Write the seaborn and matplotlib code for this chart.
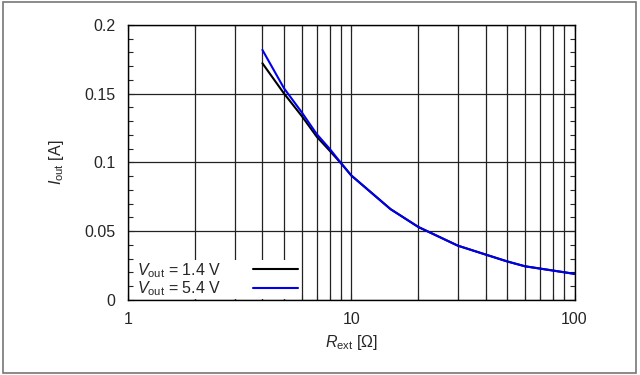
import numpy as np
import pandas as pd
import matplotlib
matplotlib.use("Agg")
import matplotlib.pyplot as plt
import matplotlib.ticker as mticker
from matplotlib.patches import Rectangle
import seaborn as sns

# ── Data ───────────────────────────────────────────────────────────────────────
r_ext = [4, 5, 6, 7, 8, 9, 10, 15, 20, 30, 40, 50, 60, 100]
i_out_1v4 = [0.172, 0.150, 0.1337, 0.1187, 0.1085, 0.0993, 0.0905,
             0.066, 0.053, 0.0395, 0.033, 0.028, 0.0245, 0.019]
i_out_5v4 = [0.1817, 0.1538, 0.1364, 0.1206, 0.1099, 0.0995, 0.0905,
             0.066, 0.053, 0.0395, 0.033, 0.028, 0.0245, 0.019]
series_labels = [r"$V_{\mathrm{out}}$ = 1.4 V", r"$V_{\mathrm{out}}$ = 5.4 V"]
x_ticks = [1, 10, 100]
y_ticks = [0, 0.05, 0.1, 0.15, 0.2]
y_tick_labels = ["0", "0.05", "0.1", "0.15", "0.2"]

df = pd.concat([
    pd.DataFrame({"R": r_ext, "I": i_out_1v4, "series": series_labels[0]}),
    pd.DataFrame({"R": r_ext, "I": i_out_5v4, "series": series_labels[1]}),
])

sns.set_style("ticks")
plt.rcParams["font.family"] = ["Liberation Sans", "DejaVu Sans"]
plt.rcParams.update({
    "font.size": 11.5,
    "mathtext.fontset": "custom",
    "mathtext.rm": "Liberation Sans",
    "mathtext.it": "Liberation Sans:italic",
})

fig = plt.figure(figsize=(6.4, 3.75), dpi=100)
ax = fig.add_axes([0.2, 0.2, 0.6977, 0.734])

sns.lineplot(
    data=df, x="R", y="I", hue="series", ax=ax,
    palette={series_labels[0]: "#000000", series_labels[1]: "#0000ee"},
    linewidth=1.5, sort=False, estimator=None,
)

ax.set_xscale("log")
ax.set_xlim(1, 100)
ax.set_ylim(0, 0.2)
ax.set_xticks(x_ticks)
ax.xaxis.set_major_formatter(mticker.FuncFormatter(lambda v, _: f"{v:g}"))
ax.xaxis.set_minor_locator(mticker.LogLocator(base=10, subs=np.arange(2, 10)))
ax.xaxis.set_minor_formatter(mticker.NullFormatter())
ax.set_yticks(y_ticks)
ax.set_yticklabels(y_tick_labels)
ax.yaxis.set_minor_locator(mticker.MultipleLocator(0.01))

ax.grid(which="both", axis="x", color="#222222", linewidth=0.9)
ax.grid(which="major", axis="y", color="#222222", linewidth=0.9)
ax.tick_params(which="both", direction="in", top=True, right=True,
               width=0.8, pad=9, labelsize=11.5)
ax.tick_params(which="minor", length=3.5)
ax.tick_params(which="major", length=4)
for s in ax.spines.values():
    s.set_linewidth(1.0)
    s.set_color("black")

ax.set_xlabel(r"$R_{\mathrm{ext}}$ [$\Omega$]", labelpad=4)
ax.set_ylabel(r"$I_{\mathrm{out}}$ [A]", labelpad=13)

handles, labels = ax.get_legend_handles_labels()
leg = ax.legend(
    handles, labels, loc="lower left", bbox_to_anchor=(0.016, 0.0),
    markerfirst=False, frameon=True, fancybox=False, framealpha=1,
    facecolor="white", edgecolor="none", fontsize=11.5,
    handlelength=2.8, handletextpad=2.0, labelspacing=0.0,
    borderpad=0.05, borderaxespad=0.05,
)
leg.set_zorder(5)

fig.patches.append(Rectangle((0.005, 0.006), 0.988, 0.988, transform=fig.transFigure,
                             fill=False, edgecolor="#777777", linewidth=1.2))

fig.savefig("out.png", dpi=100)
